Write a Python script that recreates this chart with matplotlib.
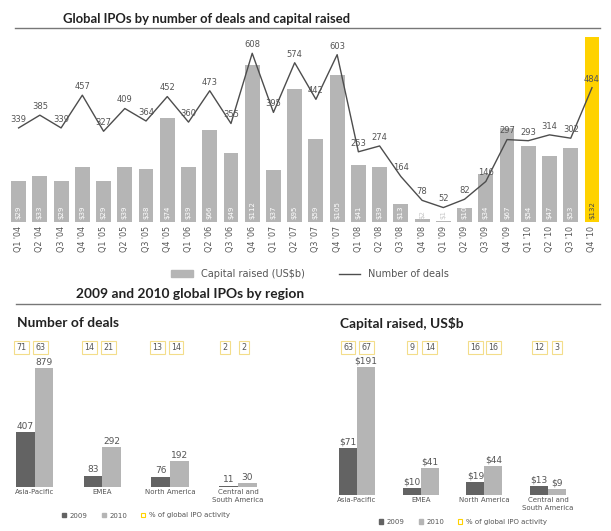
import matplotlib
matplotlib.use("Agg")
import matplotlib.pyplot as plt
import matplotlib.transforms as mtransforms
from matplotlib.lines import Line2D
from matplotlib.patches import Patch

# ---- data ----
quarters = ["Q1 '04", "Q2 '04", "Q3 '04", "Q4 '04", "Q1 '05", "Q2 '05", "Q3 '05", "Q4 '05",
            "Q1 '06", "Q2 '06", "Q3 '06", "Q4 '06", "Q1 '07", "Q2 '07", "Q3 '07", "Q4 '07",
            "Q1 '08", "Q2 '08", "Q3 '08", "Q4 '08", "Q1 '09", "Q2 '09", "Q3 '09", "Q4 '09",
            "Q1 '10", "Q2 '10", "Q3 '10", "Q4 '10"]
capital = [29, 33, 29, 39, 29, 39, 38, 74, 39, 66, 49, 112, 37, 95, 59, 105,
           41, 39, 13, 2, 1, 10, 34, 67, 54, 47, 53, 132]
deals = [339, 385, 339, 457, 327, 409, 364, 452, 360, 473, 355, 608, 395, 574, 442, 603,
         253, 274, 164, 78, 52, 82, 146, 297, 293, 314, 302, 484]

regions = ["Asia-Pacific", "EMEA", "North America", "Central and\nSouth America"]
deals_2009 = [407, 83, 76, 11]
deals_2010 = [879, 292, 192, 30]
deals_share_2009 = [71, 14, 13, 2]
deals_share_2010 = [63, 21, 14, 2]
cap_2009 = [71, 10, 19, 13]
cap_2010 = [191, 41, 44, 9]
cap_share_2009 = [63, 9, 16, 12]
cap_share_2010 = [67, 14, 16, 3]

W, H = 611, 531
GREY = "#b5b5b5"
DARK = "#636363"
YELLOW = "#ffd200"
TXT = "#555555"
TITLE_FONT = ["Lato", "DejaVu Sans"]


def fx(px):
    return px / W


def fy(py):
    return 1 - py / H


fig = plt.figure(figsize=(W / 100, H / 100), dpi=100)

# ---- top chart ----
ax = fig.add_axes([fx(8), fy(222), (602.6 - 8) / W, 190 / H])
ax2 = ax.twinx()
x = list(range(len(quarters)))
colors = [GREY] * (len(x) - 1) + [YELLOW]
ax.bar(x, capital, width=0.7, color=colors, zorder=1)
ax.set_ylim(0, 135.7)
ax.set_xlim(-0.5, len(x) - 0.5)
for i, v in enumerate(capital):
    c = "white" if v >= 10 else "#c8c8c8"
    if i == len(x) - 1:
        c = "#4a4a4a"
    ax.annotate(f"${v}", (i, 0), xytext=(0, 2.5), textcoords="offset points",
                rotation=90, ha="center", va="bottom", fontsize=5, color=c)

ax2.plot(x, deals, color="#4d4d4d", lw=1.0, zorder=3)
ax2.set_ylim(0, 684.7)
for i, v in enumerate(deals):
    ax2.annotate(str(v), (i, v), xytext=(0, 3), textcoords="offset points",
                 ha="center", va="bottom", fontsize=6, color=TXT)

ax.set_xticks(x)
ax.set_xticklabels(quarters, rotation=90, fontsize=5.8, color=TXT)
ax.tick_params(axis="x", length=0, pad=3)
for a in (ax, ax2):
    a.set_yticks([])
    for s in a.spines.values():
        s.set_visible(False)
ax2.set_zorder(ax.get_zorder() + 1)
ax2.patch.set_visible(False)

fig.legend(handles=[Patch(color=GREY, label="Capital raised (US$b)"),
                    Line2D([], [], color="#4d4d4d", lw=1, label="Number of deals")],
           loc="center", bbox_to_anchor=(fx(310), fy(274)), ncol=2, frameon=False,
           fontsize=7, labelcolor=TXT, columnspacing=3.5, handlelength=2.2,
           handleheight=0.6)

fig.text(fx(63), fy(19), "Global IPOs by number of deals and capital raised",
         fontsize=9.4, weight="bold", va="center", color="#222222", family=TITLE_FONT)
fig.add_artist(Line2D([fx(15), fx(600)], [fy(28), fy(28)], color="#777777", lw=1))

# ---- bottom section ----
fig.text(fx(76), fy(294), "2009 and 2010 global IPOs by region",
         fontsize=9.9, weight="bold", va="center", color="#222222", family=TITLE_FONT)
fig.add_artist(Line2D([fx(16), fx(600)], [fy(304), fy(304)], color="#777777", lw=1))


def region_chart(left_px, right_px, base_px, ylim, v09, v10, s09, s10, title, title_x,
                 fmt, box_shift, label_y, legend_xy, width):
    a = fig.add_axes([fx(left_px), fy(base_px), (right_px - left_px) / W, (base_px - 360) / H])
    xs = list(range(len(regions)))
    a.bar([i - width / 2 for i in xs], v09, width=width, color=DARK)
    a.bar([i + width / 2 for i in xs], v10, width=width, color=GREY)
    a.set_xlim(-0.5, len(xs) - 0.5)
    a.set_ylim(0, ylim)
    a.axis("off")
    tr = mtransforms.blended_transform_factory(a.transData, fig.transFigure)
    for i in xs:
        for off, v in ((-width / 2, v09[i]), (width / 2, v10[i])):
            a.annotate(fmt.format(v), (i + off, v), xytext=(0, 1), textcoords="offset points",
                       ha="center", va="bottom", fontsize=6.5, color=TXT)
        a.text(i, label_y, regions[i], transform=tr, ha="center", va="top", fontsize=5,
               color=TXT, linespacing=1.3)
    for i in xs:
        for off, v in ((-width / 2, s09[i]), (width / 2, s10[i])):
            a.text(i + off + box_shift, fy(347.5), str(v), transform=tr, ha="center",
                   va="center", fontsize=5.8, color=TXT,
                   bbox=dict(boxstyle="square,pad=0.3", fc="white", ec="#f3dd8a", lw=0.8))
    fig.text(fx(title_x), fy(323), title, fontsize=9.9, weight="bold", va="center",
             color="#222222", family=TITLE_FONT)
    fig.legend(handles=[Patch(color=DARK, label="2009"), Patch(color=GREY, label="2010"),
                        Patch(fc="white", ec=YELLOW, lw=0.8, label="% of global IPO activity")],
               loc="center", bbox_to_anchor=(fx(legend_xy[0]), fy(legend_xy[1])), ncol=3,
               frameon=False, fontsize=5, labelcolor=TXT, handlelength=0.6,
               handleheight=0.6, columnspacing=2.0, handletextpad=0.5)


region_chart(0.6, 271.8, 487, 938, deals_2009, deals_2010, deals_share_2009,
             deals_share_2010, "Number of deals", 17, "{}", -0.05, fy(489),
             (146, 515.5), 0.275)
region_chart(325.2, 580, 495, 201.8, cap_2009, cap_2010, cap_share_2009,
             cap_share_2010, "Capital raised, US$b", 340, "${}", 0.0, fy(497),
             (463, 522), 0.283)

fig.savefig("out.png", dpi=100)
